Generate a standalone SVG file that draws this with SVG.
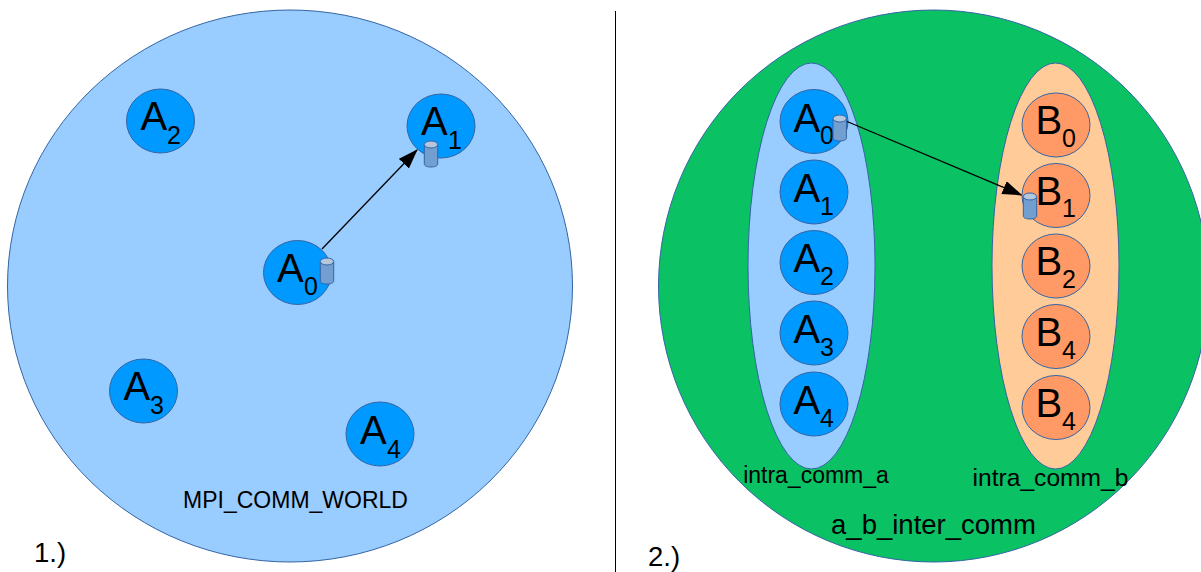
<svg xmlns="http://www.w3.org/2000/svg" width="1201" height="572" viewBox="0 0 1201 572">
<style>
text{font-family:"Liberation Sans",Arial,sans-serif;fill:#000}
.s{stroke:#3465a4;stroke-width:1}
.a{fill:#0099ff}
.b{fill:#ff9966}
.l{font-size:40px}
.i{font-size:25px}
.c{fill:#729fcf;stroke:#3465a4;stroke-width:1}
.t{fill:#b4c7dc;stroke:#3465a4;stroke-width:1}
</style>
<defs>
<marker id="arr" markerUnits="userSpaceOnUse" markerWidth="20" markerHeight="16" refX="19" refY="7" orient="auto"><path d="M0 0L20 7L0 14Z" fill="#000"/></marker>
<g id="cyl"><path class="c" d="M-6.700 -9.500V10C-6.700 12 -3.500 13 0 13S6.700 12 6.700 10V-9.500Z"/><ellipse class="t" cx="0" cy="-9.500" rx="6.700" ry="3.500"/></g>
</defs>
<line x1="615.500" y1="11" x2="615.500" y2="572" stroke="#000" stroke-width="1"/>
<g id="world"><ellipse class="s" cx="290" cy="286" rx="282.500" ry="276" fill="#99ccff"/><text x="295.500" y="508" text-anchor="middle" font-size="23">MPI_COMM_WORLD</text></g>
<g id="inter"><ellipse class="s" cx="933.500" cy="286" rx="275" ry="276" fill="#0ac164"/><text x="933.500" y="534" text-anchor="middle" font-size="27.500">a_b_inter_comm</text></g>
<g id="intra_a"><ellipse class="s" cx="811.500" cy="266" rx="63.500" ry="203" fill="#99ccff"/><text x="816" y="483" text-anchor="middle" font-size="23">intra_comm_a</text></g>
<g id="intra_b"><ellipse class="s" cx="1055.500" cy="266" rx="63.500" ry="203" fill="#ffcc99"/><text x="1050.500" y="486" text-anchor="middle" font-size="24.600">intra_comm_b</text></g>
<g id="l-a0"><ellipse class="s a" cx="297.500" cy="272.500" rx="34" ry="32"/><text class="l" x="277" y="282">A</text><text class="i" x="304" y="295">0</text></g>
<g id="l-a1"><ellipse class="s a" cx="441" cy="126" rx="34" ry="32"/><text class="l" x="421" y="135">A</text><text class="i" x="448" y="149">1</text></g>
<g id="l-a2"><ellipse class="s a" cx="160.500" cy="121" rx="34" ry="32"/><text class="l" x="140.500" y="130">A</text><text class="i" x="167" y="144">2</text></g>
<g id="l-a3"><ellipse class="s a" cx="143.500" cy="391" rx="34" ry="32"/><text class="l" x="123.500" y="400">A</text><text class="i" x="150" y="414">3</text></g>
<g id="l-a4"><ellipse class="s a" cx="380" cy="434" rx="34" ry="32"/><text class="l" x="360" y="444">A</text><text class="i" x="387" y="458">4</text></g>
<g id="r-a0"><ellipse class="s a" cx="814" cy="121.500" rx="34" ry="32"/><text class="l" x="793.500" y="132">A</text><text class="i" x="820" y="144">0</text></g>
<g id="r-a1"><ellipse class="s a" cx="814" cy="192" rx="34" ry="32"/><text class="l" x="793.500" y="202">A</text><text class="i" x="820" y="215">1</text></g>
<g id="r-a2"><ellipse class="s a" cx="814" cy="262.500" rx="34" ry="32"/><text class="l" x="793.500" y="272">A</text><text class="i" x="820" y="285">2</text></g>
<g id="r-a3"><ellipse class="s a" cx="814" cy="333" rx="34" ry="32"/><text class="l" x="793.500" y="343">A</text><text class="i" x="820" y="356">3</text></g>
<g id="r-a4"><ellipse class="s a" cx="814" cy="404" rx="34" ry="32"/><text class="l" x="793.500" y="414">A</text><text class="i" x="820" y="427">4</text></g>
<g id="r-b0"><ellipse class="s b" cx="1056" cy="125" rx="34" ry="32"/><text class="l" x="1035.500" y="134">B</text><text class="i" x="1062" y="147">0</text></g>
<g id="r-b1"><ellipse class="s b" cx="1056" cy="195.500" rx="34" ry="32"/><text class="l" x="1035.500" y="205">B</text><text class="i" x="1062" y="217">1</text></g>
<g id="r-b2"><ellipse class="s b" cx="1056" cy="266" rx="34" ry="32"/><text class="l" x="1035.500" y="275">B</text><text class="i" x="1062" y="288">2</text></g>
<g id="r-b3"><ellipse class="s b" cx="1056" cy="336.500" rx="34" ry="32"/><text class="l" x="1035.500" y="346">B</text><text class="i" x="1062" y="359">4</text></g>
<g id="r-b4"><ellipse class="s b" cx="1056" cy="407.500" rx="34" ry="32"/><text class="l" x="1035.500" y="417">B</text><text class="i" x="1062" y="430">4</text></g>
<text x="34" y="562" font-size="27.500">1.)</text>
<text x="648" y="566" font-size="27.500">2.)</text>
<g id="cylinders"><use href="#cyl" x="327" y="271"/><use href="#cyl" x="431" y="154"/><use href="#cyl" x="839.700" y="128"/><use href="#cyl" x="1030" y="206"/></g>
<g id="connectors" stroke="#000" stroke-width="1.300" fill="none"><line x1="322" y1="249" x2="417" y2="150" marker-end="url(#arr)"/><line x1="847" y1="121.500" x2="1021.500" y2="195" marker-end="url(#arr)"/></g>
</svg>
